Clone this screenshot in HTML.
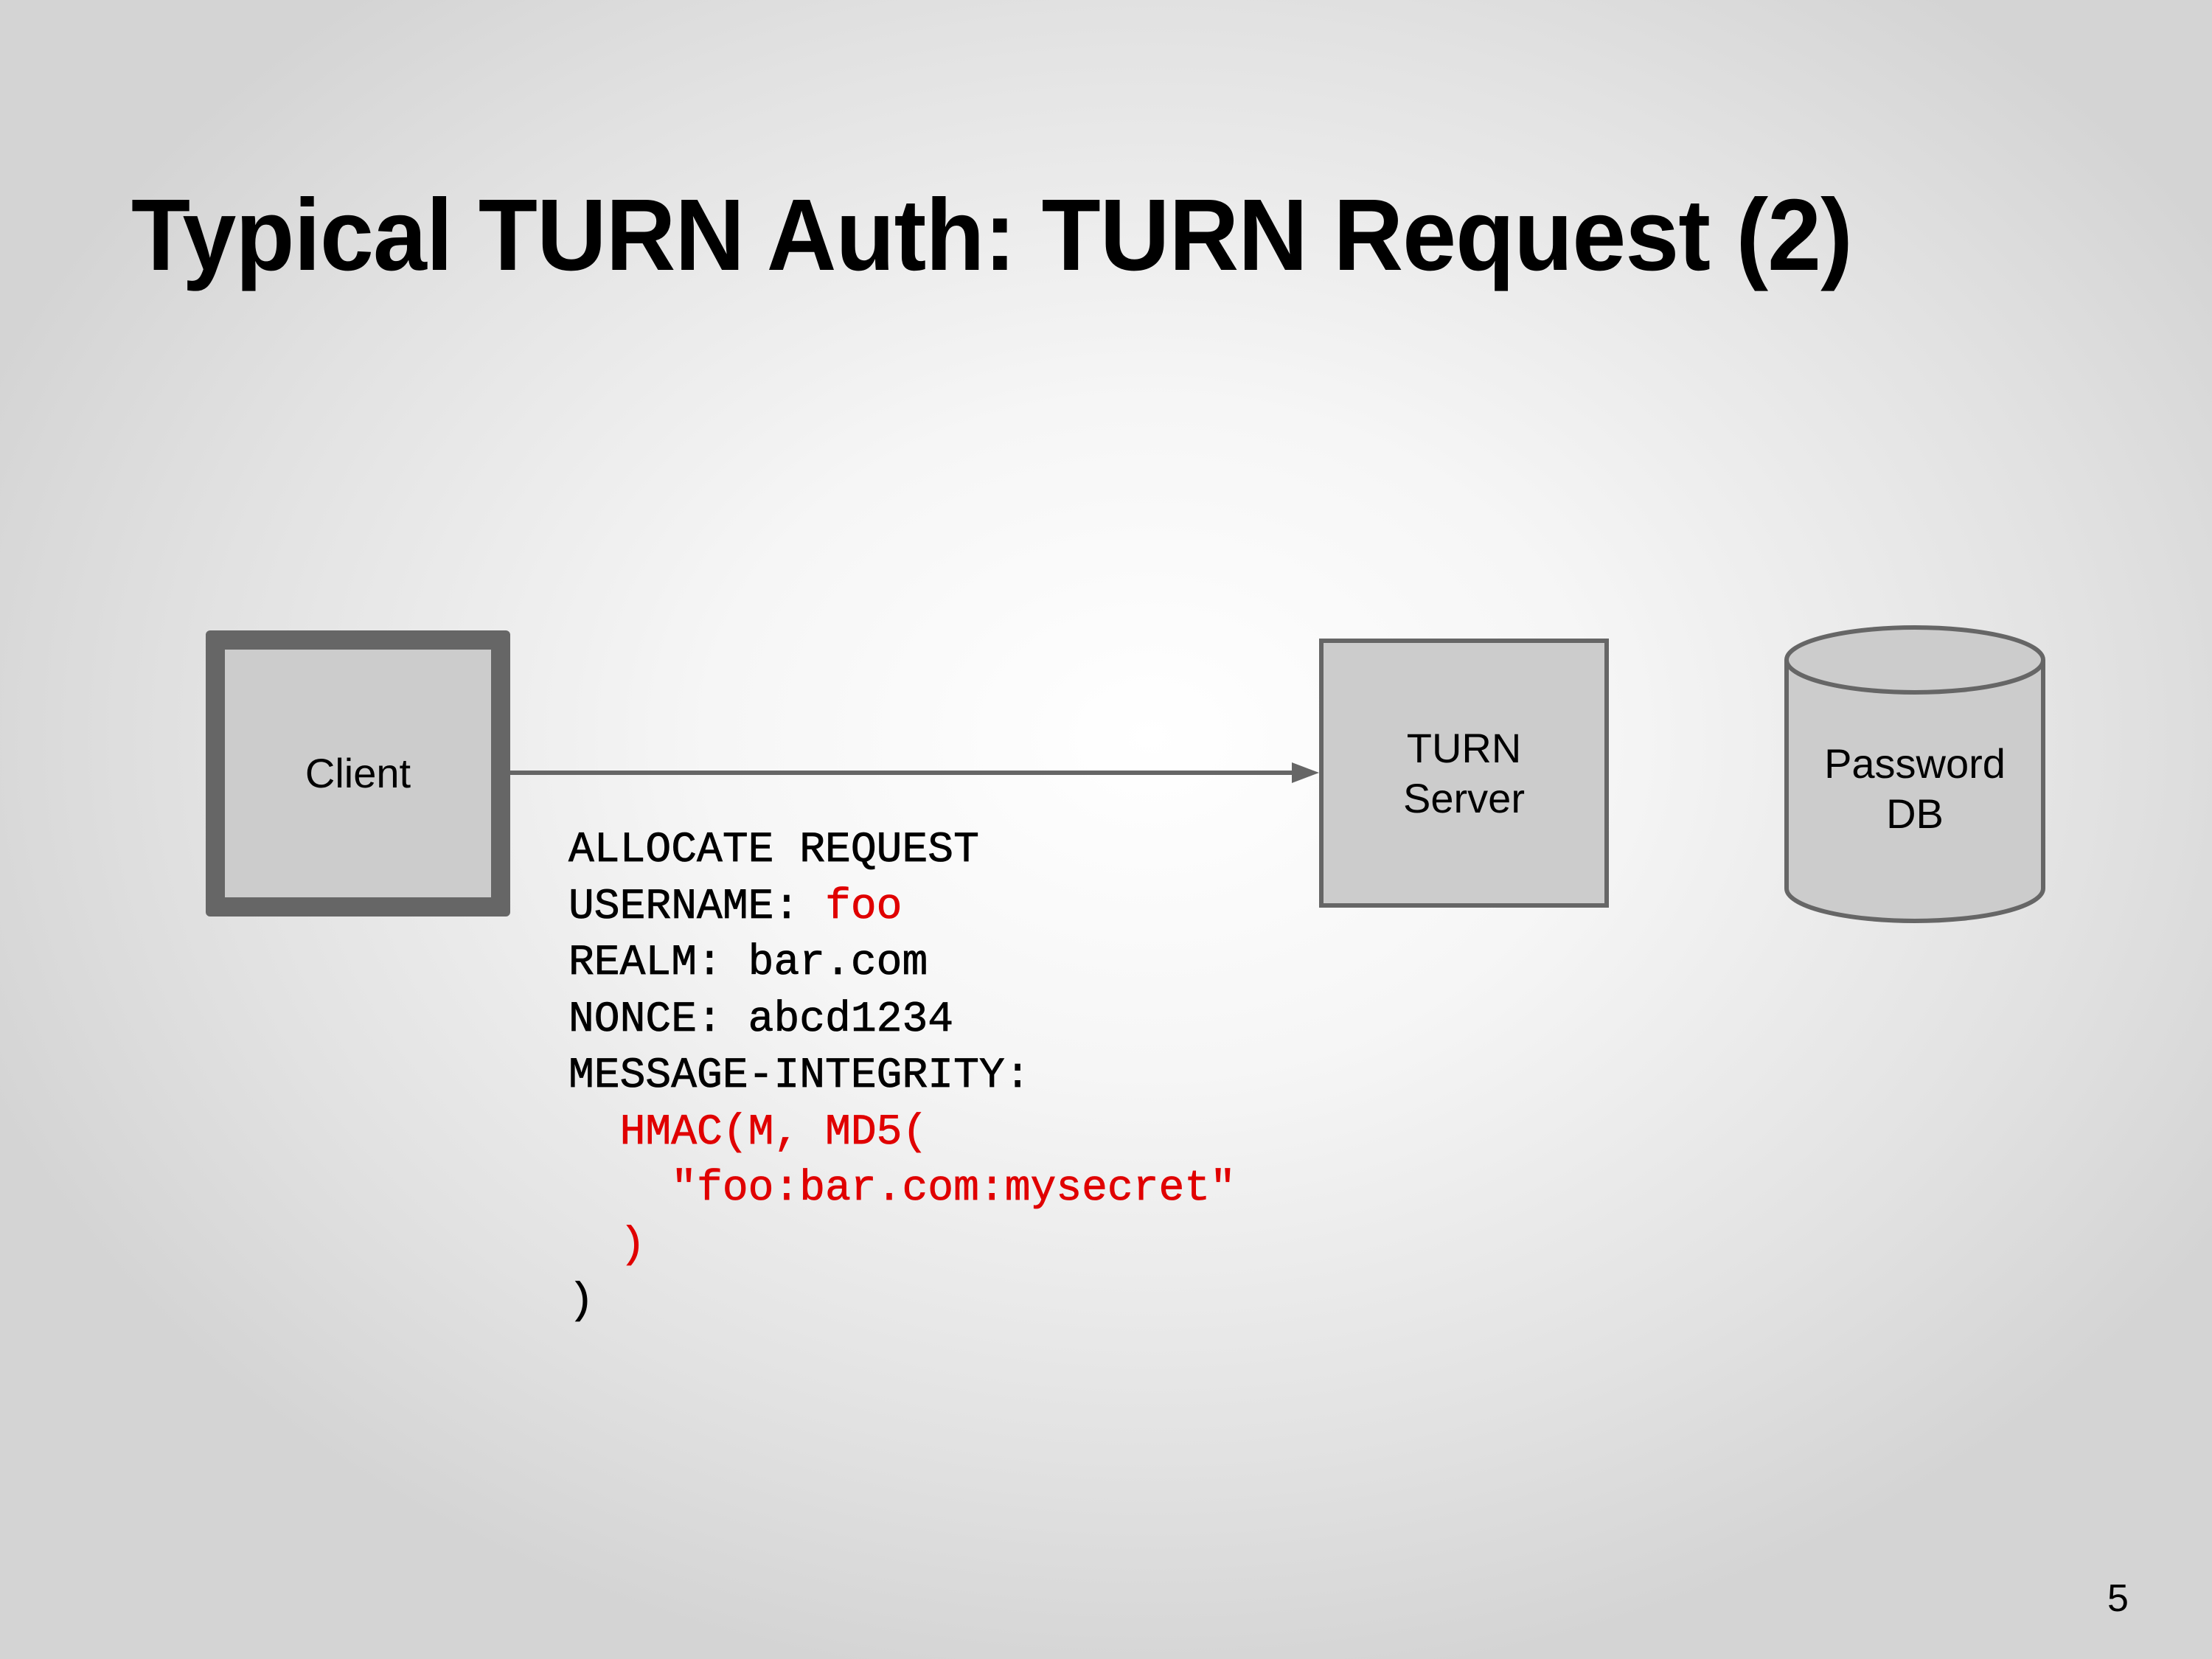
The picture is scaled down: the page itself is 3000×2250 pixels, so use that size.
<!DOCTYPE html>
<html><head><meta charset="utf-8"><style>
html,body{margin:0;padding:0}
body{width:3000px;height:2250px;position:relative;overflow:hidden;
background:radial-gradient(ellipse 1700px 1300px at 1560px 1000px,#ffffff 0%,#f6f6f6 35%,#e2e2e2 75%,#d4d4d4 100%);
font-family:"Liberation Sans",sans-serif}
.title{position:absolute;left:178px;top:240px;font-size:138px;font-weight:bold;color:#000;white-space:nowrap;transform:scaleX(0.95);transform-origin:left top;letter-spacing:-1px}
.box{position:absolute;background:#cccccc;box-sizing:border-box;display:flex;align-items:center;justify-content:center;text-align:center;font-size:56px;color:#000;line-height:68px}
.code{position:absolute;left:771px;top:1116px;font-family:"Liberation Mono",monospace;font-size:58px;line-height:76.5px;color:#000;white-space:pre;font-weight:normal;-webkit-text-stroke:0.8px #000}
.r{color:#e00000;-webkit-text-stroke:0.8px #e00000}
</style></head><body>
<div class="title">Typical TURN Auth: TURN Request (2)</div>
<div class="box" style="left:279px;top:855px;width:413px;height:388px;border:26px solid #666;border-radius:6px">Client</div>
<div class="box" style="left:1789px;top:866px;width:393px;height:365px;border:6px solid #666">TURN<br>Server</div>
<svg style="position:absolute;left:0;top:0" width="3000" height="2250">
<line x1="692" y1="1048" x2="1760" y2="1048" stroke="#666" stroke-width="6"/>
<polygon points="1789,1048 1752,1034 1752,1062" fill="#666"/>
<path d="M2423,895 L2423,1205 A174,44 0 0 0 2771,1205 L2771,895" fill="#cccccc" stroke="#666" stroke-width="6"/>
<ellipse cx="2597" cy="895" rx="174" ry="44" fill="#cccccc" stroke="#666" stroke-width="6"/>
<text x="2597" y="1055" font-size="56" text-anchor="middle" font-family="Liberation Sans">Password</text>
<text x="2597" y="1123" font-size="56" text-anchor="middle" font-family="Liberation Sans">DB</text>
</svg>
<div class="code">ALLOCATE REQUEST
USERNAME: <span class="r">foo</span>
REALM: bar.com
NONCE: abcd1234
MESSAGE-INTEGRITY:
  <span class="r">HMAC(M, MD5(</span>
    <span class="r">"foo:bar.com:mysecret"</span>
  <span class="r">)</span>
)</div>
<div style="position:absolute;left:2858px;top:2138px;font-size:52px">5</div>
</body></html>
